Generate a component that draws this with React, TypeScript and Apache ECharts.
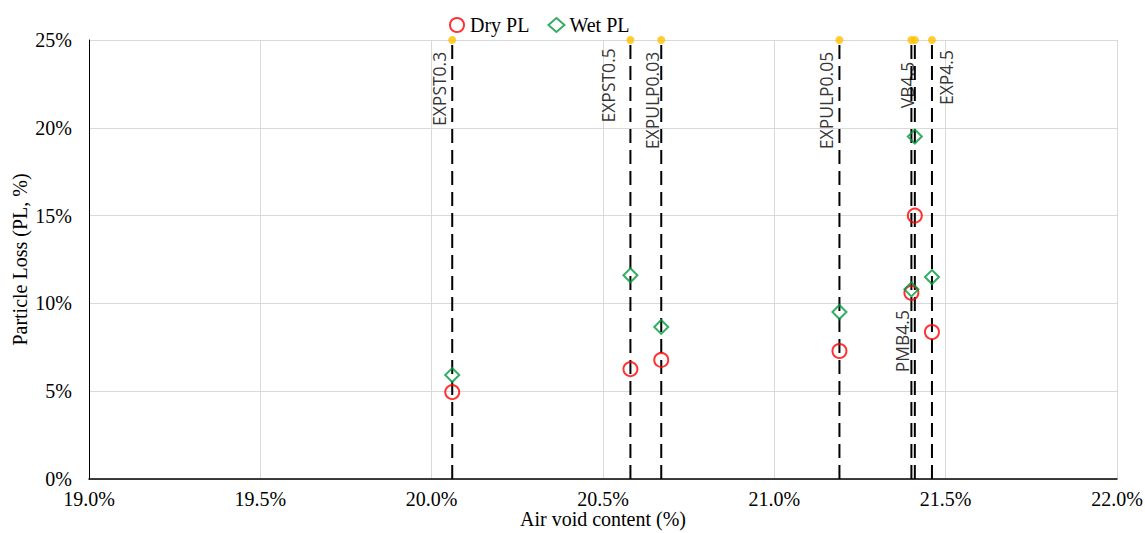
import React, { useEffect, useRef } from "react";
import * as echarts from "echarts";

const samples = ["EXPST0.3", "EXPST0.5", "EXPULP0.03", "EXPULP0.05", "PMB4.5", "VB4.5", "EXP4.5"];
const airVoid = [20.06, 20.58, 20.67, 21.19, 21.4, 21.41, 21.46];
const dryPL = [4.95, 6.26, 6.78, 7.29, 10.6, 15.0, 8.37];
const wetPL = [5.92, 11.6, 8.66, 9.51, 10.8, 19.5, 11.5];

// label placement (text top in axis units, side and distance from the line)
const labelTop = [24.33, 24.53, 24.33, 24.33, 9.62, 23.76, 24.43];
const labelSide = ["left", "left", "left", "left", "left", "left", "right"];
const labelDist = [13, 22, 9, 13, 9, 8, 14];

const X_MIN = 19;
const X_MAX = 22;
const Y_MIN = 0;
const Y_MAX = 25;

export default function App() {
  const ref = useRef<HTMLDivElement>(null);
  useEffect(() => {
    const chart = echarts.init(ref.current!, null, { renderer: "svg" });
    const serif = "'Liberation Serif', 'Times New Roman', serif";
    const lineSeries = airVoid.map((x, i) => ({
      type: "line",
      name: "line-" + samples[i],
      data: [
        [x, Y_MIN],
        [x, Y_MAX],
      ],
      symbol: "none",
      silent: true,
      z: 2,
      lineStyle: { color: "#000", width: 2, type: [14, 7] },
    }));
    chart.setOption({
      animation: false,
      grid: { left: 89, right: 28, top: 40, bottom: 54, containLabel: false, outerBoundsMode: "none" },
      legend: {
        data: ["Dry PL", "Wet PL"],
        left: 444,
        top: 10,
        itemGap: 18,
        itemWidth: 16,
        itemHeight: 14,
        textStyle: { fontFamily: serif, fontSize: 20, color: "#000" },
      },
      xAxis: {
        type: "value",
        min: X_MIN,
        max: X_MAX,
        interval: 0.5,
        name: "Air void content (%)",
        nameLocation: "middle",
        nameGap: 32,
        nameMoveOverlap: false,
        nameTextStyle: { fontFamily: serif, fontSize: 20, lineHeight: 16, color: "#000" },
        axisLine: { show: true, lineStyle: { color: "#000", width: 1.5 } },
        axisTick: { show: false },
        axisLabel: {
          margin: 12,
          fontFamily: serif,
          fontSize: 20,
          lineHeight: 16,
          color: "#000",
          formatter: (v: number) => v.toFixed(1) + "%",
        },
        splitLine: { show: true, lineStyle: { color: "#d9d9d9", width: 1 } },
      },
      yAxis: {
        type: "value",
        min: Y_MIN,
        max: Y_MAX,
        interval: 5,
        name: "Particle Loss (PL, %)",
        nameLocation: "middle",
        nameGap: 59,
        nameMoveOverlap: false,
        nameTextStyle: { fontFamily: serif, fontSize: 20, color: "#000" },
        axisLine: { show: true, lineStyle: { color: "#000", width: 1 } },
        axisTick: { show: false },
        axisLabel: {
          margin: 17,
          fontFamily: serif,
          fontSize: 20,
          color: "#000",
          formatter: "{value}%",
        },
        splitLine: { show: true, lineStyle: { color: "#d9d9d9", width: 1 } },
      },
      series: [
        ...lineSeries,
        {
          type: "scatter",
          name: "tops",
          data: airVoid.map((x) => [x, Y_MAX]),
          symbol: "circle",
          symbolSize: 8,
          clip: false,
          silent: true,
          z: 3,
          itemStyle: { color: "#FFC000" },
        },
        {
          type: "scatter",
          name: "labels",
          data: airVoid.map((x, i) => ({
            value: [x, labelTop[i]],
            label: {
              show: true,
              formatter: samples[i],
              position: labelSide[i],
              distance: labelDist[i],
              rotate: 90,
              align: "right",
              verticalAlign: "middle",
              fontFamily: "'Open Sans', 'Noto Sans', sans-serif",
              fontSize: 17.5,
              color: "#000",
            },
          })),
          symbol: "circle",
          symbolSize: 0.1,
          silent: true,
          z: 4,
          itemStyle: { color: "rgba(0,0,0,0)" },
        },
        {
          type: "scatter",
          name: "Dry PL",
          data: airVoid.map((x, i) => [x, dryPL[i]]),
          symbol: "circle",
          symbolSize: 14,
          z: 5,
          itemStyle: { color: "rgba(255,255,255,0)", borderColor: "#FF0000", borderWidth: 2 },
        },
        {
          type: "scatter",
          name: "Wet PL",
          data: airVoid.map((x, i) => [x, wetPL[i]]),
          symbol: "diamond",
          symbolSize: 14,
          z: 5,
          itemStyle: { color: "rgba(255,255,255,0)", borderColor: "#009A3E", borderWidth: 2 },
        },
      ],
    });
    return () => chart.dispose();
  }, []);
  return <div ref={ref} style={{ width: 1145, height: 533, position: "absolute", left: 0, top: 0 }} />;
}
